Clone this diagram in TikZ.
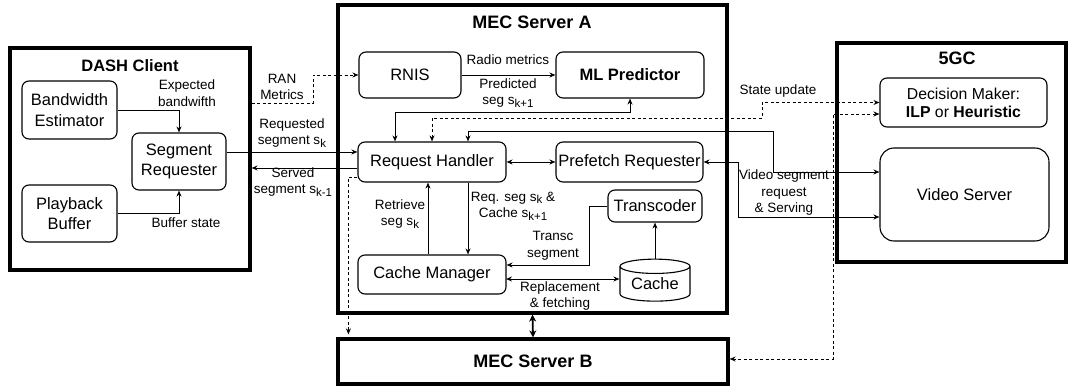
\documentclass[tikz,border=0pt]{standalone}
\usepackage{fontspec}
\setmainfont{Liberation Sans}
\usetikzlibrary{arrows.meta,shapes.geometric}
\newcommand{\sbs}[1]{\raisebox{-2.6pt}{\fontsize{11.5}{11.5}\selectfont #1}}

\begin{document}
\begin{tikzpicture}[x=1pt, y=-1pt, >={Stealth[open,length=6pt,width=5pt]},
	main/.style = {draw, rounded corners=7pt, line width=1.1pt, inner sep=0pt, align=center, font=\fontsize{16.5}{20.5}\selectfont},
	group/.style = {draw, line width=3.2pt, inner sep=0pt},
	title/.style = {font=\fontsize{18}{21}\selectfont\bfseries},
	cyl/.style = {draw, cylinder, shape border rotate=90, aspect=0.3, line width=1.1pt, inner sep=0pt, minimum width=70pt, minimum height=42pt, font=\fontsize{16.5}{20.5}\selectfont},
	lab/.style = {align=center, inner sep=0pt, font=\fontsize{13.5}{16.5}\selectfont},
	link/.style = {line width=0.9pt},
	ctrl/.style = {line width=0.9pt, dash pattern=on 3pt off 2.5pt}]
	\useasboundingbox (0,0) rectangle (1069,387);
	
	\node[group, minimum width=240pt, minimum height=222pt] (dc) at (130,159) {};
	\node[title, font=\fontsize{16.5}{20}\selectfont\bfseries] (dcT) at (130,66) {DASH Client};
	\node[main, minimum width=95pt, minimum height=58pt] (be) at (69.5,110) {Bandwidth\\Estimator};
	\node[main, minimum width=95pt, minimum height=57pt] (pb) at (69.5,213.5) {Playback\\Buffer};
	\node[main, minimum width=94pt, minimum height=57pt] (sr) at (179,161.5) {Segment\\Requester};
	
	\node[group, minimum width=389pt, minimum height=308pt] (ma) at (532.5,159) {};
	\node[title] (maT) at (532,22) {MEC Server A};
	\node[main, minimum width=102pt, minimum height=46pt] (rnis) at (410,75) {RNIS};
	\node[main, minimum width=148pt, minimum height=46pt, font=\fontsize{16.5}{20.5}\selectfont\bfseries] (ml) at (630,75) {ML Predictor};
	\node[main, minimum width=148pt, minimum height=40pt] (rh) at (432,162) {Request Handler};
	\node[main, minimum width=147pt, minimum height=40pt] (pr) at (629.5,162) {Prefetch Requester};
	\node[main, minimum width=148pt, minimum height=39pt] (cm) at (432,274.5) {Cache Manager};
	\node[main, minimum width=94pt, minimum height=32pt] (tc) at (655,206) {Transcoder};
	\node[cyl] (cache) at (655,284) {Cache};
	
	\node[group, title, minimum width=390pt, minimum height=45pt] (mb) at (533,361.5) {MEC Server B};
	
	\node[group, minimum width=229pt, minimum height=219pt] (gc) at (951.5,152.5) {};
	\node[title] (gcT) at (957,58) {5GC};
	\node[main, minimum width=167pt, minimum height=49pt, font=\fontsize{15.8}{18}\selectfont] (dm) at (963.5,102.5) {Decision Maker:\\\textbf{ILP} or \textbf{Heuristic}};
	\node[main, minimum width=169pt, minimum height=93pt, rounded corners=14pt] (vs) at (964.5,194.5) {Video Server};
	
	\coordinate (c1) at (313,75);
	\coordinate (c2) at (395,112);
	\coordinate (c3) at (762,118);
	\coordinate (c4) at (773,131);
	\coordinate (c5) at (738,217);
	\coordinate (c6) at (833,359);
	\coordinate (c8) at (589,265);
	\coordinate (c9) at (506,279);
	
	\draw[link, ->] (be.east) -| (sr.north);
	\draw[link, ->] (pb.east) -| (sr.south);
	\draw[link, ->] ([yshift=9.5pt]sr.east) -- ([yshift=10pt]rh.west);
	\draw[link, ->] ([yshift=-6pt]rh.west) -- ([yshift=-9pt]dc.east);
	\draw[ctrl, ->] ([yshift=56pt]dc.east) -| (c1) -- (rnis.west);
	\draw[link, ->] (rnis) -- (ml);
	\draw[link, <->] (ml.south) |- (c2) -- (c2 |- rh.north);
	\draw[ctrl, <->] (rh.north) |- (c3) |- (dm.west);
	\draw[link, <->] ([xshift=36pt]rh.north) |- (c4) |- ([yshift=22.5pt]vs.west);
	\draw[link, <->] (pr.east) -| (c5) -- (c5 -| vs.west);
	\draw[ctrl, <->] ([yshift=-11.5pt]dm.west) -| (c6) -- (c6 -| mb.east);
	\draw[ctrl, ->, shorten >=3pt] ([yshift=-15pt]rh.west) -| ([xshift=12pt]mb.north west);
	\draw[link, <->] (rh) -- (pr);
	\draw[link, ->] ([xshift=-4pt]cm.north) -- ([xshift=-4pt]rh.south);
	\draw[link, ->] ([xshift=36pt]rh.south) -- ([xshift=36pt]cm.north);
	\draw[link, ->] (cache.north -| tc.south) -- (tc.south);
	\draw[link, ->] (tc.west) -| (c8) -- (c8 -| cm.east);
	\draw[link, <->] (c9) -- (c9 -| cache.west);
	\draw[line width=1.8pt, {Stealth[length=7pt,width=7pt]}-{Stealth[length=7pt,width=7pt]}] (ma.south) -- (mb.north);
	
	\node[lab] (l1) at (187,93) {Expected\\bandwifth};
	\node[lab] (l2) at (186,223) {Buffer state};
	\node[lab] (l3) at (282,87) {RAN\\Metrics};
	\node[lab] (l4) at (292,133) {Requested\\segment s\sbs{k}};
	\node[lab] (l5) at (293,182) {Served\\segment s\sbs{k-1}};
	\node[lab] (l6) at (508,60) {Radio metrics};
	\node[lab] (l7) at (508,93) {Predicted\\seg s\sbs{k+1}};
	\node[lab] (l8) at (778,91) {State update};
	\node[lab] (l9) at (784,193) {Video segment\\request\\\& Serving};
	\node[lab] (l10) at (400,214) {Retrieve\\seg s\sbs{k}};
	\node[lab] (l11) at (513,206) {Req. seg s\sbs{k} \&\\Cache s\sbs{k+1}};
	\node[lab] (l12) at (553,246) {Transc\\segment};
	\node[lab] (l13) at (560,296) {Replacement\\\& fetching};
\end{tikzpicture}
\end{document}
